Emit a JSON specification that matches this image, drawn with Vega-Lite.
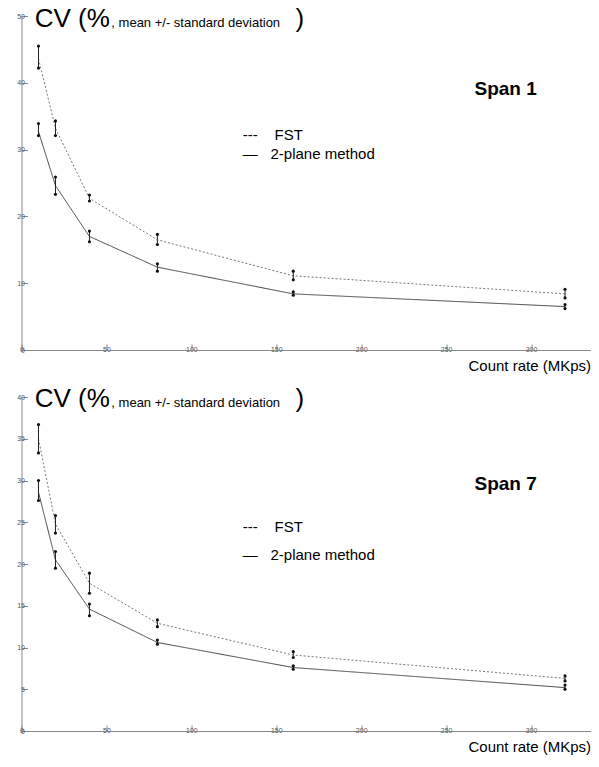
{
  "$schema": "https://vega.github.io/schema/vega-lite/v6.json",
  "autosize": {"type": "pad"},
  "padding": {"left": 16.5, "top": 6, "right": 5, "bottom": 2},
  "background": "white",
  "spacing": 47,
  "bounds": "flush",
  "config": {
    "view": {"stroke": null},
    "font": "Liberation Sans",
    "axis": {
      "grid": false,
      "domainColor": "#888",
      "tickColor": "#888",
      "labelColor": "#555",
      "labelFontSize": 7,
      "labelFont": "Liberation Sans",
      "titleFont": "Liberation Sans",
      "tickSize": -6,
      "labelOverlap": false,
      "labelBound": false,
      "labelFlush": false
    }
  },
  "datasets": {
    "cv": [
      {"span": "Span 1", "method": "FST", "rate": 10, "mean": 43.6, "lo": 42.2, "hi": 45.5},
      {"span": "Span 1", "method": "FST", "rate": 20, "mean": 33.2, "lo": 32.1, "hi": 34.3},
      {"span": "Span 1", "method": "FST", "rate": 40, "mean": 22.7, "lo": 22.3, "hi": 23.2},
      {"span": "Span 1", "method": "FST", "rate": 80, "mean": 16.5, "lo": 15.8, "hi": 17.3},
      {"span": "Span 1", "method": "FST", "rate": 160, "mean": 11.1, "lo": 10.5, "hi": 11.8},
      {"span": "Span 1", "method": "FST", "rate": 320, "mean": 8.4, "lo": 7.8, "hi": 9.1},
      {"span": "Span 1", "method": "2-plane method", "rate": 10, "mean": 32.7, "lo": 32.1, "hi": 33.9},
      {"span": "Span 1", "method": "2-plane method", "rate": 20, "mean": 24.6, "lo": 23.3, "hi": 25.9},
      {"span": "Span 1", "method": "2-plane method", "rate": 40, "mean": 17.0, "lo": 16.2, "hi": 17.8},
      {"span": "Span 1", "method": "2-plane method", "rate": 80, "mean": 12.4, "lo": 11.8, "hi": 12.9},
      {"span": "Span 1", "method": "2-plane method", "rate": 160, "mean": 8.4, "lo": 8.2, "hi": 8.7},
      {"span": "Span 1", "method": "2-plane method", "rate": 320, "mean": 6.5, "lo": 6.2, "hi": 6.8},
      {"span": "Span 7", "method": "FST", "rate": 10, "mean": 35.0, "lo": 33.3, "hi": 36.7},
      {"span": "Span 7", "method": "FST", "rate": 20, "mean": 24.8, "lo": 23.7, "hi": 25.8},
      {"span": "Span 7", "method": "FST", "rate": 40, "mean": 17.7, "lo": 16.5, "hi": 18.9},
      {"span": "Span 7", "method": "FST", "rate": 80, "mean": 12.9, "lo": 12.5, "hi": 13.3},
      {"span": "Span 7", "method": "FST", "rate": 160, "mean": 9.1, "lo": 8.8, "hi": 9.5},
      {"span": "Span 7", "method": "FST", "rate": 320, "mean": 6.3, "lo": 6.0, "hi": 6.6},
      {"span": "Span 7", "method": "2-plane method", "rate": 10, "mean": 28.6, "lo": 27.6, "hi": 30.0},
      {"span": "Span 7", "method": "2-plane method", "rate": 20, "mean": 20.5, "lo": 19.5, "hi": 21.5},
      {"span": "Span 7", "method": "2-plane method", "rate": 40, "mean": 14.6, "lo": 13.8, "hi": 15.2},
      {"span": "Span 7", "method": "2-plane method", "rate": 80, "mean": 10.6, "lo": 10.4, "hi": 10.9},
      {"span": "Span 7", "method": "2-plane method", "rate": 160, "mean": 7.6, "lo": 7.4, "hi": 7.8},
      {"span": "Span 7", "method": "2-plane method", "rate": 320, "mean": 5.2, "lo": 5.0, "hi": 5.5}
    ]
  },
  "vconcat": [
    {
      "width": 569,
      "height": 334,
      "layer": [
        {
          "data": {"name": "cv"},
          "transform": [{"filter": "datum.span === 'Span 1'"}],
          "mark": {"type": "line", "strokeWidth": 1},
          "encoding": {
            "x": {"field": "rate", "type": "quantitative", "scale": {"domain": [0, 335], "nice": false},
              "axis": {"values": [0, 50, 100, 150, 200, 250, 300], "title": "Count rate (MKps)", "titleAnchor": "end", "titleFontSize": 15, "titleFontWeight": "normal", "titleColor": "black", "titlePadding": 6, "labelPadding": 1, "labelOverlap": false}},
            "y": {"field": "mean", "type": "quantitative", "scale": {"domain": [0, 50], "nice": false},
              "axis": {"values": [0, 5, 10, 15, 20, 25, 30, 35, 40, 45, 50], "title": null, "labelPadding": 3, "labelOverlap": false, "labelSeparation": 0}},
            "strokeDash": {"field": "method", "type": "nominal", "scale": {"domain": ["FST", "2-plane method"], "range": [[2, 2], [1, 0]]}, "legend": null},
            "color": {"field": "method", "type": "nominal", "scale": {"domain": ["FST", "2-plane method"], "range": ["#777777", "#444444"]}, "legend": null}
          }
        },
        {
          "data": {"name": "cv"},
          "transform": [{"filter": "datum.span === 'Span 1'"}],
          "mark": {"type": "rule", "color": "#222", "strokeWidth": 1},
          "encoding": {"x": {"field": "rate", "type": "quantitative"}, "y": {"field": "lo", "type": "quantitative"}, "y2": {"field": "hi"}}
        },
        {
          "data": {"name": "cv"},
          "transform": [{"filter": "datum.span === 'Span 1'"}],
          "mark": {"type": "point", "filled": true, "color": "#111", "size": 10, "opacity": 1},
          "encoding": {"x": {"field": "rate", "type": "quantitative"}, "y": {"field": "lo", "type": "quantitative"}}
        },
        {
          "data": {"name": "cv"},
          "transform": [{"filter": "datum.span === 'Span 1'"}],
          "mark": {"type": "point", "filled": true, "color": "#111", "size": 10, "opacity": 1},
          "encoding": {"x": {"field": "rate", "type": "quantitative"}, "y": {"field": "hi", "type": "quantitative"}}
        },
        {"data": {"values": [{}]}, "mark": {"type": "text", "fontSize": 26, "align": "left", "baseline": "alphabetic", "color": "black"},
          "encoding": {"x": {"datum": 7.8}, "y": {"datum": 48.3}, "text": {"value": "CV (%"}}},
        {"data": {"values": [{}]}, "mark": {"type": "text", "fontSize": 13, "align": "left", "baseline": "alphabetic", "color": "black"},
          "encoding": {"x": {"datum": 52.9}, "y": {"datum": 48.3}, "text": {"value": ", mean +/- standard deviation"}}},
        {"data": {"values": [{}]}, "mark": {"type": "text", "fontSize": 26, "align": "left", "baseline": "alphabetic", "color": "black"},
          "encoding": {"x": {"datum": 161.3}, "y": {"datum": 48.3}, "text": {"value": ")"}}},
        {"data": {"values": [{}]}, "mark": {"type": "text", "fontSize": 19, "fontWeight": "bold", "align": "left", "baseline": "alphabetic", "color": "black"},
          "encoding": {"x": {"datum": 266.7}, "y": {"datum": 38.2}, "text": {"value": "Span 1"}}},
        {"data": {"values": [{}]}, "mark": {"type": "text", "fontSize": 15, "align": "left", "baseline": "alphabetic", "color": "black"},
          "encoding": {"x": {"datum": 130.3}, "y": {"datum": 31.4}, "text": {"value": "---"}}},
        {"data": {"values": [{}]}, "mark": {"type": "text", "fontSize": 15, "align": "left", "baseline": "alphabetic", "color": "black"},
          "encoding": {"x": {"datum": 149}, "y": {"datum": 31.4}, "text": {"value": "FST"}}},
        {"data": {"values": [{}]}, "mark": {"type": "text", "fontSize": 15, "align": "left", "baseline": "alphabetic", "color": "black"},
          "encoding": {"x": {"datum": 130.3}, "y": {"datum": 28.6}, "text": {"value": "—"}}},
        {"data": {"values": [{}]}, "mark": {"type": "text", "fontSize": 15, "align": "left", "baseline": "alphabetic", "color": "black"},
          "encoding": {"x": {"datum": 146.6}, "y": {"datum": 28.6}, "text": {"value": "2-plane method"}}}
      ]
    },
    {
      "width": 569,
      "height": 334,
      "layer": [
        {
          "data": {"name": "cv"},
          "transform": [{"filter": "datum.span === 'Span 7'"}],
          "mark": {"type": "line", "strokeWidth": 1},
          "encoding": {
            "x": {"field": "rate", "type": "quantitative", "scale": {"domain": [0, 335], "nice": false},
              "axis": {"values": [0, 50, 100, 150, 200, 250, 300], "title": "Count rate (MKps)", "titleAnchor": "end", "titleFontSize": 15, "titleFontWeight": "normal", "titleColor": "black", "titlePadding": 6, "labelPadding": 1, "labelOverlap": false}},
            "y": {"field": "mean", "type": "quantitative", "scale": {"domain": [0, 40], "nice": false},
              "axis": {"values": [0, 5, 10, 15, 20, 25, 30, 35, 40], "title": null, "labelPadding": 3, "labelOverlap": false, "labelSeparation": 0}},
            "strokeDash": {"field": "method", "type": "nominal", "scale": {"domain": ["FST", "2-plane method"], "range": [[2, 2], [1, 0]]}, "legend": null},
            "color": {"field": "method", "type": "nominal", "scale": {"domain": ["FST", "2-plane method"], "range": ["#777777", "#444444"]}, "legend": null}
          }
        },
        {
          "data": {"name": "cv"},
          "transform": [{"filter": "datum.span === 'Span 7'"}],
          "mark": {"type": "rule", "color": "#222", "strokeWidth": 1},
          "encoding": {"x": {"field": "rate", "type": "quantitative"}, "y": {"field": "lo", "type": "quantitative"}, "y2": {"field": "hi"}}
        },
        {
          "data": {"name": "cv"},
          "transform": [{"filter": "datum.span === 'Span 7'"}],
          "mark": {"type": "point", "filled": true, "color": "#111", "size": 10, "opacity": 1},
          "encoding": {"x": {"field": "rate", "type": "quantitative"}, "y": {"field": "lo", "type": "quantitative"}}
        },
        {
          "data": {"name": "cv"},
          "transform": [{"filter": "datum.span === 'Span 7'"}],
          "mark": {"type": "point", "filled": true, "color": "#111", "size": 10, "opacity": 1},
          "encoding": {"x": {"field": "rate", "type": "quantitative"}, "y": {"field": "hi", "type": "quantitative"}}
        },
        {"data": {"values": [{}]}, "mark": {"type": "text", "fontSize": 26, "align": "left", "baseline": "alphabetic", "color": "black"},
          "encoding": {"x": {"datum": 7.8}, "y": {"datum": 38.8}, "text": {"value": "CV (%"}}},
        {"data": {"values": [{}]}, "mark": {"type": "text", "fontSize": 13, "align": "left", "baseline": "alphabetic", "color": "black"},
          "encoding": {"x": {"datum": 52.9}, "y": {"datum": 38.8}, "text": {"value": ", mean +/- standard deviation"}}},
        {"data": {"values": [{}]}, "mark": {"type": "text", "fontSize": 26, "align": "left", "baseline": "alphabetic", "color": "black"},
          "encoding": {"x": {"datum": 161.3}, "y": {"datum": 38.8}, "text": {"value": ")"}}},
        {"data": {"values": [{}]}, "mark": {"type": "text", "fontSize": 19, "fontWeight": "bold", "align": "left", "baseline": "alphabetic", "color": "black"},
          "encoding": {"x": {"datum": 266.7}, "y": {"datum": 28.9}, "text": {"value": "Span 7"}}},
        {"data": {"values": [{}]}, "mark": {"type": "text", "fontSize": 15, "align": "left", "baseline": "alphabetic", "color": "black"},
          "encoding": {"x": {"datum": 130.3}, "y": {"datum": 23.8}, "text": {"value": "---"}}},
        {"data": {"values": [{}]}, "mark": {"type": "text", "fontSize": 15, "align": "left", "baseline": "alphabetic", "color": "black"},
          "encoding": {"x": {"datum": 149}, "y": {"datum": 23.8}, "text": {"value": "FST"}}},
        {"data": {"values": [{}]}, "mark": {"type": "text", "fontSize": 15, "align": "left", "baseline": "alphabetic", "color": "black"},
          "encoding": {"x": {"datum": 130.3}, "y": {"datum": 20.5}, "text": {"value": "—"}}},
        {"data": {"values": [{}]}, "mark": {"type": "text", "fontSize": 15, "align": "left", "baseline": "alphabetic", "color": "black"},
          "encoding": {"x": {"datum": 146.6}, "y": {"datum": 20.5}, "text": {"value": "2-plane method"}}}
      ]
    }
  ]
}
